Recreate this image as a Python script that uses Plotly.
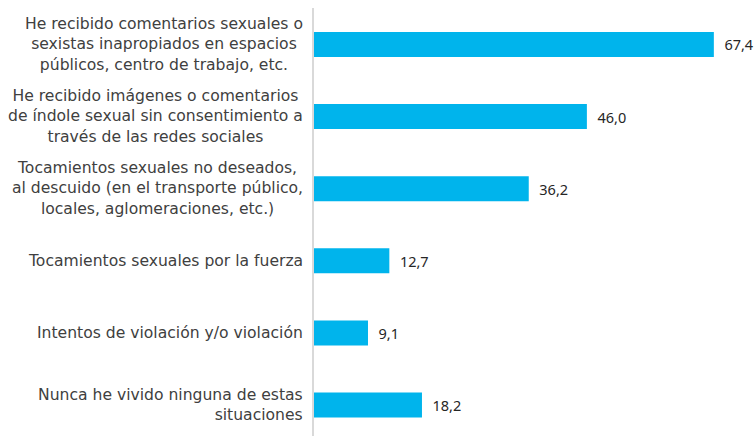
import plotly.graph_objects as go

categories = [
    "He recibido comentarios sexuales o<br>sexistas inapropiados en espacios<br>públicos, centro de trabajo, etc.",
    "He recibido imágenes o comentarios<br>de índole sexual sin consentimiento a<br>través de las redes sociales",
    "Tocamientos sexuales no deseados,<br>al descuido (en el transporte público,<br>locales, aglomeraciones, etc.)",
    "Tocamientos sexuales por la fuerza",
    "Intentos de violación y/o violación",
    "Nunca he vivido ninguna de estas<br>situaciones",
]
values = [67.4, 46.0, 36.2, 12.7, 9.1, 18.2]
label_align = ["center", "center", "center", "right", "right", "right"]

_BAR = "#00b4ec"
_TEXT = "#404040"
_FONT = "DejaVu Sans"

value_text = ["  " + f"{v:.1f}".replace(".", ",") for v in values]

fig = go.Figure(
    go.Bar(
        x=values,
        y=categories,
        orientation="h",
        marker=dict(color=_BAR, line=dict(width=0)),
        text=value_text,
        textposition="outside",
        textfont=dict(family="Noto Sans", size=14.5, color="#262626"),
        cliponaxis=False,
    )
)

for cat, align in zip(categories, label_align):
    fig.add_annotation(
        x=0,
        xref="paper",
        y=cat,
        yref="y",
        xanchor="right",
        xshift=-9,
        text=cat,
        align=align,
        showarrow=False,
        font=dict(family=_FONT, size=15.6, color=_TEXT),
    )

fig.update_layout(
    width=754,
    height=436,
    margin=dict(l=314, r=1, t=8, b=0),
    plot_bgcolor="white",
    paper_bgcolor="white",
    bargap=0.653,
    showlegend=False,
)
fig.update_xaxes(range=[0, 74], visible=False)
fig.update_yaxes(
    type="category",
    range=[5.43, -0.506],
    showticklabels=False,
    showline=True,
    linecolor="#d9d9d9",
    linewidth=1.5,
    ticks="",
    showgrid=False,
)

# drop the browser's default body margin so the figure sits at the page corner
fig.write_html(
    "out.html",
    config={"displayModeBar": False},
    post_script="document.body.style.margin='0';document.body.style.overflow='hidden';",
)
